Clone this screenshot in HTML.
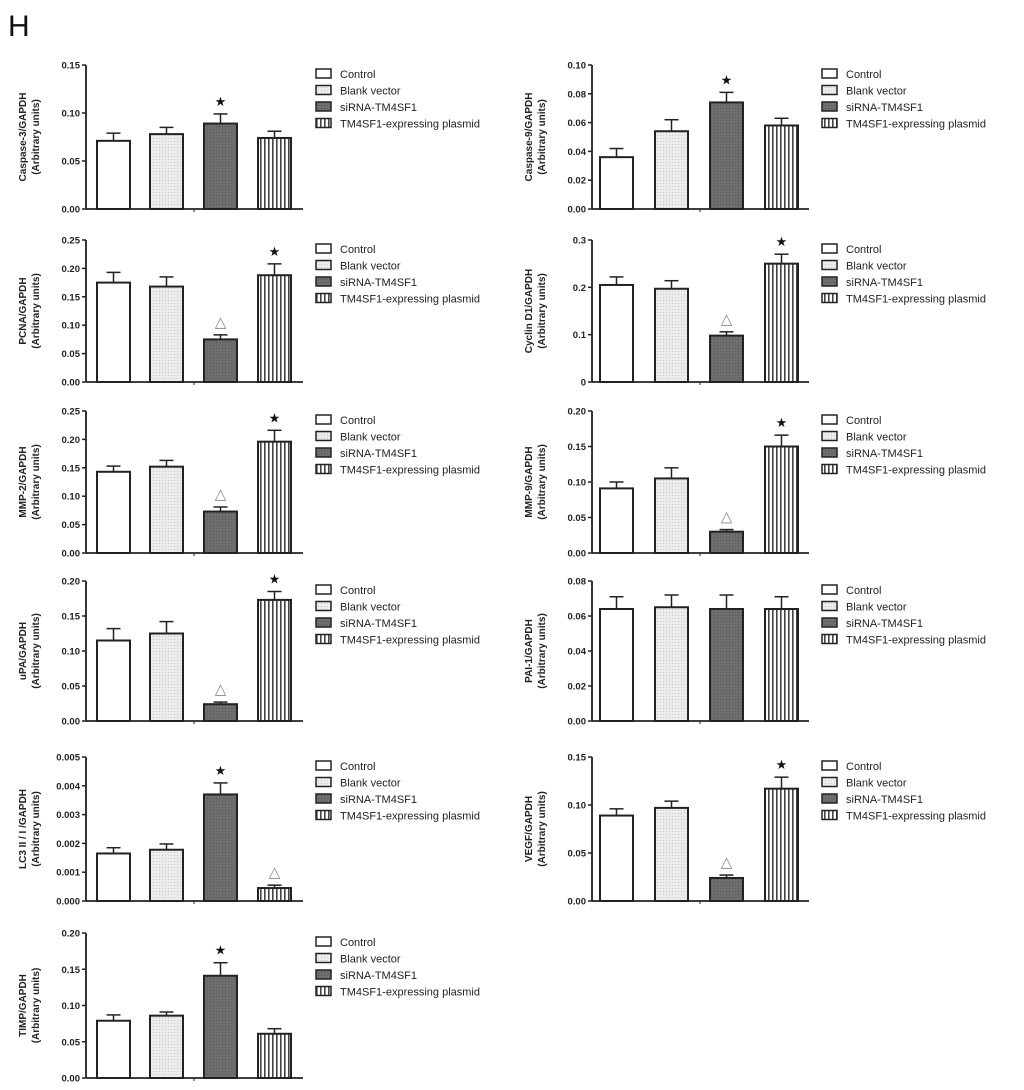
<!DOCTYPE html>
<html><head><meta charset="utf-8"><style>
body{margin:0;background:#fff;}
svg{display:block;font-family:"Liberation Sans",Arial,sans-serif;}
</style></head><body>
<svg id="fig" width="1024" height="1090" viewBox="0 0 1024 1090">
<defs>
<pattern id="stripes" width="4" height="4" patternUnits="userSpaceOnUse"><rect width="4" height="4" fill="#fff"/><rect width="1.6" height="4" fill="#444"/></pattern>
<pattern id="dots" width="3" height="3" patternUnits="userSpaceOnUse"><rect width="3" height="3" fill="#ececec"/><rect width="1" height="1" fill="#c8c8c8"/></pattern>
<pattern id="dark" width="3" height="3" patternUnits="userSpaceOnUse"><rect width="3" height="3" fill="#6e6e6e"/><rect width="1" height="1" fill="#555"/></pattern>
</defs>
<text x="8" y="36" font-size="30" fill="#111">H</text>
</svg>
<script>
const categories = ["Control","Blank vector","siRNA-TM4SF1","TM4SF1-expressing plasmid"];
const casp3Values=[0.071,0.078,0.089,0.074], casp3Err=[0.008,0.007,0.010,0.007];
const casp9Values=[0.036,0.054,0.074,0.058], casp9Err=[0.006,0.008,0.007,0.005];
const pcnaValues=[0.175,0.168,0.075,0.188], pcnaErr=[0.018,0.017,0.008,0.020];
const cyclinValues=[0.205,0.197,0.098,0.250], cyclinErr=[0.017,0.017,0.008,0.020];
const mmp2Values=[0.143,0.152,0.073,0.196], mmp2Err=[0.010,0.011,0.008,0.020];
const mmp9Values=[0.091,0.105,0.030,0.150], mmp9Err=[0.009,0.015,0.003,0.016];
const upaValues=[0.115,0.125,0.024,0.173], upaErr=[0.017,0.017,0.003,0.012];
const paiValues=[0.064,0.065,0.064,0.064], paiErr=[0.007,0.007,0.008,0.007];
const lc3Values=[0.00165,0.00178,0.0037,0.00045], lc3Err=[0.0002,0.0002,0.0004,0.0001];
const vegfValues=[0.089,0.097,0.024,0.117], vegfErr=[0.007,0.007,0.003,0.012];
const timpValues=[0.079,0.086,0.141,0.061], timpErr=[0.008,0.005,0.018,0.007];
const casp3Ticks=["0.00","0.05","0.10","0.15"];
const casp9Ticks=["0.00","0.02","0.04","0.06","0.08","0.10"];
const pcnaTicks=["0.00","0.05","0.10","0.15","0.20","0.25"];
const cyclinTicks=["0","0.1","0.2","0.3"];
const mmp9Ticks=["0.00","0.05","0.10","0.15","0.20"];
const paiTicks=["0.00","0.02","0.04","0.06","0.08"];
const lc3Ticks=["0.000","0.001","0.002","0.003","0.004","0.005"];
const vegfTicks=["0.00","0.05","0.10","0.15"];
const casp3Marks=["","","star",""], casp9Marks=["","","star",""];
const pcnaMarks=["","","tri","star"], lc3Marks=["","","star","tri"], timpMarks=["","","star",""], noMarks=["","","",""];

const panels=[
 {id:"caspase-3",lab:"Caspase-3/GAPDH",v:casp3Values,e:casp3Err,t:casp3Ticks,m:casp3Marks,col:0,top:65,base:209},
 {id:"caspase-9",lab:"Caspase-9/GAPDH",v:casp9Values,e:casp9Err,t:casp9Ticks,m:casp9Marks,col:1,top:65,base:209},
 {id:"pcna",lab:"PCNA/GAPDH",v:pcnaValues,e:pcnaErr,t:pcnaTicks,m:pcnaMarks,col:0,top:240,base:382},
 {id:"cyclin-d1",lab:"Cyclin D1/GAPDH",v:cyclinValues,e:cyclinErr,t:cyclinTicks,m:pcnaMarks,col:1,top:240,base:382},
 {id:"mmp-2",lab:"MMP-2/GAPDH",v:mmp2Values,e:mmp2Err,t:pcnaTicks,m:pcnaMarks,col:0,top:411,base:553},
 {id:"mmp-9",lab:"MMP-9/GAPDH",v:mmp9Values,e:mmp9Err,t:mmp9Ticks,m:pcnaMarks,col:1,top:411,base:553},
 {id:"upa",lab:"uPA/GAPDH",v:upaValues,e:upaErr,t:mmp9Ticks,m:pcnaMarks,col:0,top:581,base:721},
 {id:"pai-1",lab:"PAI-1/GAPDH",v:paiValues,e:paiErr,t:paiTicks,m:noMarks,col:1,top:581,base:721},
 {id:"lc3",lab:"LC3 II / I /GAPDH",v:lc3Values,e:lc3Err,t:lc3Ticks,m:lc3Marks,col:0,top:757,base:901},
 {id:"vegf",lab:"VEGF/GAPDH",v:vegfValues,e:vegfErr,t:vegfTicks,m:pcnaMarks,col:1,top:757,base:901},
 {id:"timp",lab:"TIMP/GAPDH",v:timpValues,e:timpErr,t:mmp9Ticks,m:timpMarks,col:0,top:933,base:1078}
];
const svg=document.getElementById('fig');
const NS="http://www.w3.org/2000/svg";
function mk(tag,attrs,parent){const el=document.createElementNS(NS,tag);for(const k in attrs)el.setAttribute(k,attrs[k]);parent.appendChild(el);return el;}
const fills=["#fff","url(#dots)","url(#dark)","url(#stripes)"];
panels.forEach(p=>{
 const g=mk('g',{},svg);
 
 
 const ax=p.col?592:86, barX=p.col?[600,655,710,765]:[97,150,204,258], bw=33;
 const maxV=parseFloat(p.t[p.t.length-1]);
 const y=v=>p.base-(v/maxV)*(p.base-p.top);
 mk('line',{x1:ax,y1:p.top,x2:ax,y2:p.base,stroke:'#222','stroke-width':1.8},g);
 mk('line',{x1:ax,y1:p.base,x2:ax+217,y2:p.base,stroke:'#222','stroke-width':1.8},g);
 mk('line',{x1:ax+108,y1:p.base,x2:ax+108,y2:p.base+3,stroke:'#222','stroke-width':1},g);
 p.t.forEach(tl=>{const ty=y(parseFloat(tl));
  mk('line',{x1:ax-4,y1:ty,x2:ax,y2:ty,stroke:'#222','stroke-width':1.5},g);
  const tx=mk('text',{x:ax-6,y:ty+3.5,'font-size':9.5,'font-weight':'bold','text-anchor':'end',fill:'#222'},g);tx.textContent=tl;
  
  
 });
 const lx=ax-60, mid=(p.top+p.base)/2;
 const t1=mk('text',{x:0,y:0,'font-size':10,'font-weight':'bold','text-anchor':'middle',fill:'#222',transform:`translate(${lx},${mid}) rotate(-90)`},g);t1.textContent=p.lab;
 
 
 const t2=mk('text',{x:0,y:0,'font-size':10,'font-weight':'bold','text-anchor':'middle',fill:'#222',transform:`translate(${lx+13},${mid}) rotate(-90)`},g);t2.textContent="(Arbitrary units)";
 
 
 p.v.forEach((v,i)=>{
  const bx=barX[i], by=y(v), ey=y(v+p.e[i]), cx=bx+bw/2;
  mk('line',{x1:cx,y1:by,x2:cx,y2:ey,stroke:'#222','stroke-width':1.5},g);
  mk('line',{x1:cx-7,y1:ey,x2:cx+7,y2:ey,stroke:'#222','stroke-width':1.5},g);
  const r=mk('rect',{x:bx,y:by,width:bw,height:p.base-by,fill:fills[i],stroke:'#222','stroke-width':2},g);
  
  
  if(p.m[i]){const s=mk('text',{x:cx,y:ey-8,'font-size':p.m[i]=='star'?13:15,'text-anchor':'middle',fill:p.m[i]=='star'?'#111':'#888'},g);
   s.textContent=p.m[i]=='star'?'★':'△';
   
   }
 });
 const lgx=ax+230;
 categories.forEach((c,i)=>{
  const ly=p.top+4+i*16.5;
  const b=mk('rect',{x:lgx,y:ly,width:15,height:9,fill:fills[i],stroke:'#222','stroke-width':1.5},g);
  
  
  const lt=mk('text',{x:lgx+24,y:ly+9,'font-size':11,fill:'#222'},g);lt.textContent=c;
  
  
 });
});
</script>
</body></html>
